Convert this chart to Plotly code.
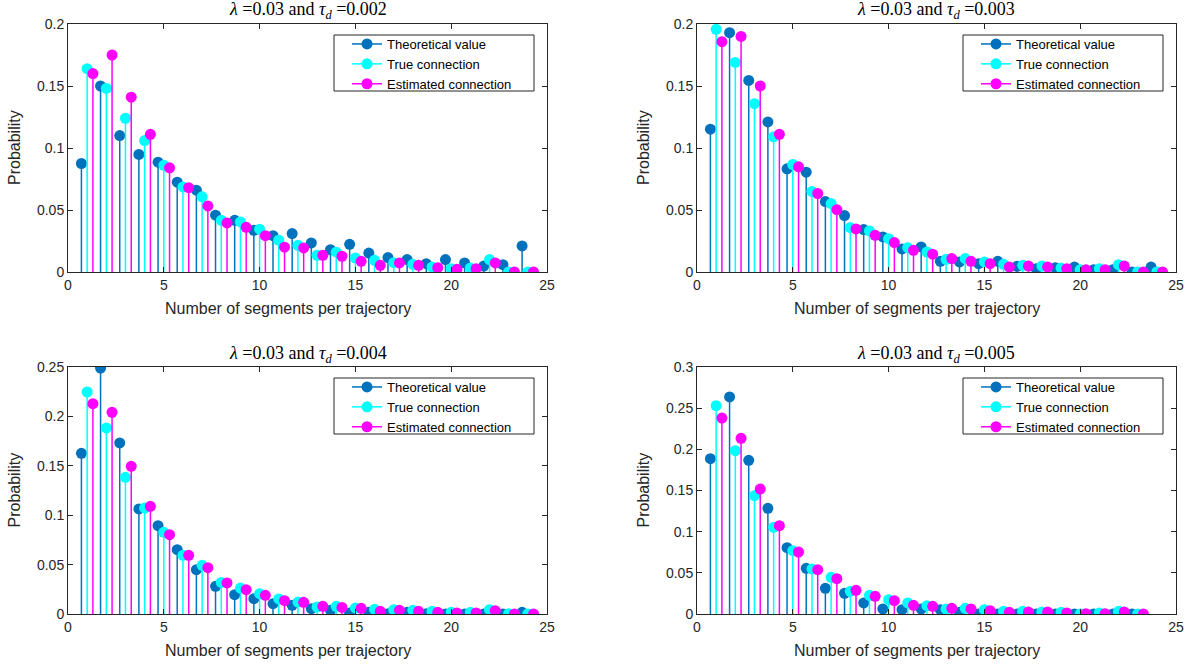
import plotly.graph_objects as go

# ---------------- data ----------------
seg_24 = list(range(1, 25))
seg_23 = list(range(1, 24))

# tau_d = 0.002
theo_002 = [0.0875, 0.150, 0.110, 0.0948, 0.0886, 0.0724, 0.066, 0.0458, 0.0417, 0.0336, 0.0293, 0.031,
            0.0234, 0.018, 0.0223, 0.0153, 0.0116, 0.010, 0.0067, 0.010, 0.0073, 0.0048, 0.0059, 0.021]
true_002 = [0.164, 0.148, 0.124, 0.106, 0.086, 0.0686, 0.0606, 0.0417, 0.0404, 0.0345, 0.0256, 0.0215,
            0.0135, 0.016, 0.0113, 0.0094, 0.0075, 0.0062, 0.004, 0.0027, 0.0032, 0.010, 0.0, 0.0]
est_002 = [0.160, 0.175, 0.141, 0.111, 0.084, 0.068, 0.0533, 0.0396, 0.036, 0.0293, 0.020, 0.0194,
           0.0135, 0.0127, 0.0086, 0.0054, 0.0073, 0.0054, 0.0035, 0.0022, 0.0027, 0.0073, 0.0, 0.0]

# tau_d = 0.003
theo_003 = [0.1152, 0.193, 0.1545, 0.121, 0.0832, 0.0805, 0.0568, 0.0455, 0.0342, 0.0283, 0.0186, 0.0202,
            0.0086, 0.0081, 0.0067, 0.0086, 0.0046, 0.0027, 0.0035, 0.004, 0.0019, 0.0019, 0.0, 0.004]
true_003 = [0.1957, 0.169, 0.1357, 0.109, 0.0867, 0.065, 0.0552, 0.0358, 0.0331, 0.0269, 0.0196, 0.0161,
            0.0102, 0.0108, 0.0081, 0.0062, 0.0054, 0.0048, 0.0032, 0.0019, 0.0027, 0.0059, 0.0, 0.0]
est_003 = [0.1857, 0.190, 0.150, 0.111, 0.0848, 0.0633, 0.0503, 0.0347, 0.0296, 0.0237, 0.0175, 0.0144,
           0.0108, 0.0086, 0.0067, 0.004, 0.0048, 0.004, 0.0027, 0.0019, 0.0019, 0.0048, 0.0, 0.0]

# tau_d = 0.004
theo_004 = [0.1626, 0.249, 0.1731, 0.1063, 0.0894, 0.0651, 0.0449, 0.028, 0.0196, 0.0155, 0.0105, 0.0088,
            0.0054, 0.0037, 0.001, 0.0017, 0.0003, 0.0017, 0.0003, 0.0, 0.0, 0.0, 0.0, 0.0017]
true_004 = [0.2247, 0.1883, 0.1383, 0.1073, 0.0827, 0.0594, 0.0493, 0.032, 0.0263, 0.0206, 0.0152, 0.0121,
            0.0071, 0.0078, 0.0061, 0.0047, 0.0044, 0.0037, 0.0027, 0.0017, 0.0017, 0.0044, 0.0003, 0.0]
est_004 = [0.2129, 0.2041, 0.1495, 0.109, 0.0803, 0.0594, 0.0469, 0.0314, 0.0246, 0.0189, 0.0135, 0.0118,
           0.0078, 0.0067, 0.0057, 0.0027, 0.0037, 0.0027, 0.0017, 0.001, 0.001, 0.0034, 0.0, 0.0]

# tau_d = 0.005
theo_005 = [0.1887, 0.2636, 0.1866, 0.1283, 0.0806, 0.0555, 0.0312, 0.0251, 0.0134, 0.0061, 0.0053, 0.0061,
            0.0053, 0.002, 0.0, 0.0, 0.0, 0.0, 0.0, 0.0, 0.0, 0.0, 0.0]
true_005 = [0.253, 0.1984, 0.1437, 0.1053, 0.0769, 0.0547, 0.0445, 0.0275, 0.0227, 0.0174, 0.0134, 0.0101,
            0.0061, 0.0069, 0.0053, 0.0032, 0.0032, 0.0024, 0.002, 0.0, 0.0012, 0.0032, 0.0]
est_005 = [0.238, 0.2134, 0.1518, 0.1073, 0.0753, 0.0538, 0.0429, 0.0287, 0.0215, 0.0162, 0.0105, 0.0093,
           0.0069, 0.0061, 0.004, 0.002, 0.0024, 0.0024, 0.0012, 0.0004, 0.0004, 0.0024, 0.0]

tau_labels = ["0.002", "0.003", "0.004", "0.005"]
series_names = ["Theoretical value", "True connection", "Estimated connection"]
series_colors = ["#0072BD", "#00FFFF", "#FF00FF"]
series_offsets = [-0.3, 0.0, 0.3]
y_ranges = [0.2, 0.2, 0.25, 0.3]
x_label = "Number of segments per trajectory"
y_label = "Probability"

panels = [
    (seg_24, [theo_002, true_002, est_002]),
    (seg_24, [theo_003, true_003, est_003]),
    (seg_24, [theo_004, true_004, est_004]),
    (seg_23, [theo_005, true_005, est_005]),
]

# ---------------- layout geometry ----------------
W, H = 1195, 665
x_doms = [(68, 547), (697, 1176)]        # px
y_doms = [(24, 272), (367, 614)]         # px (top, bottom)


def px(v):
    return v / W


def py(v):
    return 1 - v / H


fig = go.Figure()

axis_color = "#262626"
sans = "Liberation Sans, Arial, Helvetica, sans-serif"
tick_font = dict(family=sans, size=14, color=axis_color)
title_font = dict(family=sans, size=16, color=axis_color)

shapes = []
for p, (segs, series) in enumerate(panels):
    row, col = divmod(p, 2)
    ax = "" if p == 0 else str(p + 1)
    xref, yref = "x" + ax, "y" + ax
    leg = "legend" + ax
    for s, vals in enumerate(series):
        xs = [n + series_offsets[s] for n in segs]
        sx, sy = [], []
        mx, my = [], []
        for x, v in zip(xs, vals):
            sx += [x, x, None]
            sy += [0, v, None]
            mx += [x, None]
            my += [v, None]
        fig.add_trace(go.Scatter(
            x=sx, y=sy, mode="lines", xaxis=xref, yaxis=yref,
            line=dict(color=series_colors[s], width=1.5),
            showlegend=False, hoverinfo="skip"))
        fig.add_trace(go.Scatter(
            x=mx, y=my, mode="lines+markers", xaxis=xref, yaxis=yref,
            name=series_names[s], legend=leg,
            line=dict(color=series_colors[s], width=1.5),
            marker=dict(color=series_colors[s], size=11, line=dict(width=0)),
            connectgaps=False, showlegend=True))

    x0, x1 = x_doms[col]
    yt, yb = y_doms[row]
    common = dict(showgrid=False, zeroline=False, showline=True, linecolor=axis_color,
                  linewidth=1, mirror="ticks", ticks="inside", ticklen=5,
                  tickcolor=axis_color, tickfont=tick_font, automargin=False)
    fig.layout["xaxis" + ax] = dict(
        domain=[px(x0), px(x1)], anchor=yref, range=[0, 25], tickvals=[0, 5, 10, 15, 20, 25],
        **common)
    fig.layout["yaxis" + ax] = dict(
        domain=[py(yb), py(yt)], anchor=xref, range=[0, y_ranges[p]], dtick=0.05,
        **common)
    # axis titles
    fig.add_annotation(
        x=px(x0 + 220), y=py(yb + 36), xref="paper", yref="paper",
        xanchor="center", yanchor="middle", showarrow=False,
        text=x_label, font=title_font)
    fig.add_annotation(
        x=px(x0 - 54), y=py((yt + yb) / 2), xref="paper", yref="paper",
        xanchor="center", yanchor="middle", showarrow=False, textangle=-90,
        text=y_label, font=title_font)
    # panel title
    fig.add_annotation(
        x=px((x0 + x1) / 2), y=py(yt - 13), xref="paper", yref="paper",
        xanchor="center", yanchor="middle", showarrow=False,
        text="<i>λ</i> =0.03 and <i>τ<sub>d</sub></i> =" + tau_labels[p],
        font=dict(family="Liberation Serif, DejaVu Serif, serif", size=18, color="#000000"))
    # legend box (drawn as a shape so its size matches), legend on top of it
    shapes.append(dict(
        type="rect", xref="paper", yref="paper", layer="above",
        x0=px(x1 - 213), x1=px(x1 - 13), y0=py(yt + 67), y1=py(yt + 11),
        fillcolor="#FFFFFF", line=dict(color=axis_color, width=1)))
    fig.layout[leg] = dict(
        x=px(x1 - 200), y=py(yt + 5), xanchor="left", yanchor="top",
        xref="paper", yref="paper",
        bgcolor="rgba(0,0,0,0)", borderwidth=0,
        font=dict(family=sans, size=13, color="#000000"),
        tracegroupgap=0, itemwidth=30)

fig.update_layout(
    width=W, height=H, margin=dict(l=0, r=0, t=0, b=0),
    paper_bgcolor="#FFFFFF", plot_bgcolor="#FFFFFF",
    shapes=shapes,
)

fig.write_html("out.html", config={"displayModeBar": False},
               post_script="document.body.style.margin='0px';")
